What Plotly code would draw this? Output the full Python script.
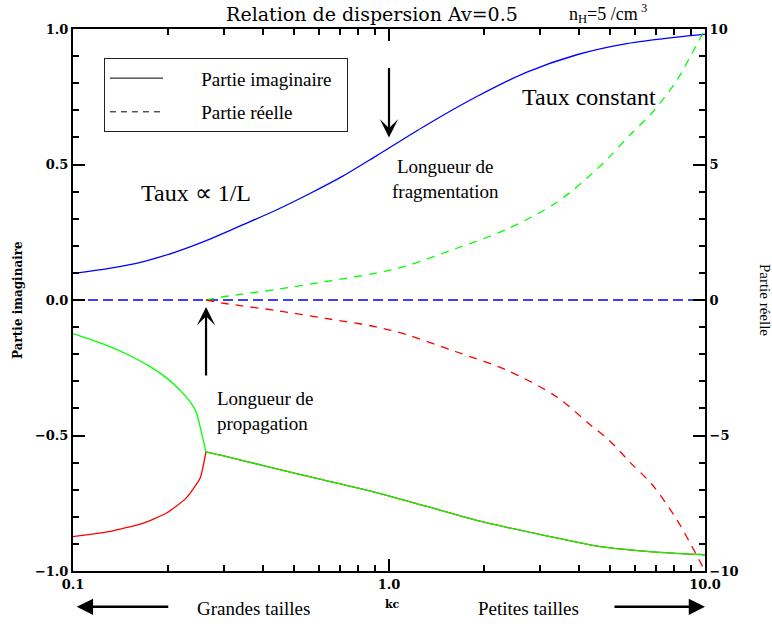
import plotly.graph_objects as go

# ---------------- data ----------------
# Imaginary part (left axis)
k_blue = [0.1, 0.13, 0.166, 0.212, 0.27, 0.344, 0.44, 0.56, 0.714, 0.912,
          1.31, 1.89, 2.72, 3.93, 5.65, 8.14, 10.0]
im_blue = [0.098, 0.117, 0.141, 0.178, 0.224, 0.277, 0.332, 0.392, 0.457, 0.532,
           0.645, 0.75, 0.84, 0.905, 0.946, 0.97, 0.98]

# green: upper branch until the branch point, then common branch
k_green = [0.1, 0.125, 0.15, 0.175, 0.2, 0.22, 0.235, 0.245, 0.251, 0.2635,
           0.3, 0.4, 0.6, 0.912, 1.3, 2.0, 3.0, 4.67, 7.0, 10.0]
im_green = [-0.124, -0.163, -0.203, -0.245, -0.292, -0.337, -0.377, -0.411, -0.455, -0.56,
            -0.575, -0.611, -0.66, -0.711, -0.76, -0.82, -0.865, -0.91, -0.93, -0.94]

# red: lower branch until the branch point, then common branch
k_red = [0.1, 0.13, 0.166, 0.197, 0.2277, 0.2523, 0.2635,
         0.3, 0.4, 0.6, 0.912, 1.3, 2.0, 3.0, 4.67, 7.0, 10.0]
im_red = [-0.873, -0.855, -0.824, -0.787, -0.732, -0.658, -0.56,
          -0.575, -0.611, -0.66, -0.711, -0.76, -0.82, -0.865, -0.91, -0.93, -0.94]

k_branch = 0.2635  # Longueur de propagation

# Real part (right axis)
k_re_blue = [0.1, 10.0]
re_blue = [0.0, 0.0]

k_re_green = [0.2635, 0.3, 0.44, 0.63, 0.91, 1.13, 1.63, 2.35, 3.39, 4.33, 5.0, 5.8, 6.79, 8.14, 9.0, 10.0]
re_green = [0.0, 0.12, 0.39, 0.68, 0.99, 1.25, 1.9, 2.6, 3.6, 4.6, 5.3, 6.1, 6.9, 8.1, 9.0, 10.0]

k_re_red = [0.2635, 0.3, 0.44, 0.63, 0.91, 1.13, 1.63, 2.35, 3.39, 4.33, 5.0, 5.8, 6.79, 8.14, 9.0, 10.0]
re_red = [0.0, -0.12, -0.39, -0.68, -0.99, -1.27, -1.91, -2.58, -3.57, -4.6, -5.2, -6.0, -6.8, -8.1, -9.0, -10.0]

# Ticks
x_major = [0.1, 1.0, 10.0]
x_major_text = ["0.1", "1.0", "10.0"]
x_minor = [0.2, 0.3, 0.4, 0.5, 0.6, 0.7, 0.8, 0.9, 2, 3, 4, 5, 6, 7, 8, 9]
yl_major = [-1.0, -0.5, 0.0, 0.5, 1.0]
yl_text = ["\u22121.0", "\u22120.5", "0.0", "0.5", "1.0"]
yr_major = [-10, -5, 0, 5, 10]
yr_text = ["\u221210", "\u22125", "0", "5", "10"]

BLUE = "rgb(0,0,255)"
GREEN = "rgb(0,255,0)"
RED = "rgb(255,0,0)"
LW = 1.3

fig = go.Figure()


def add_branch(k, v, color):
    i = k.index(k_branch)
    fig.add_trace(go.Scatter(x=k[:i + 1], y=v[:i + 1], mode="lines",
                             line=dict(color=color, width=LW, shape="spline", smoothing=0.5),
                             showlegend=False, yaxis="y"))
    fig.add_trace(go.Scatter(x=k[i:], y=v[i:], mode="lines",
                             line=dict(color=color, width=LW, shape="spline", smoothing=0.8),
                             showlegend=False, yaxis="y"))


# imaginary parts
fig.add_trace(go.Scatter(x=k_blue, y=im_blue, mode="lines",
                         line=dict(color=BLUE, width=LW, shape="spline", smoothing=0.8),
                         showlegend=False, yaxis="y"))
add_branch(k_red, im_red, RED)
add_branch(k_green, im_green, GREEN)

# real parts
fig.add_trace(go.Scatter(x=k_re_blue, y=re_blue, mode="lines",
                         line=dict(color=BLUE, width=LW, dash="10px,5px"),
                         showlegend=False, yaxis="y2"))
fig.add_trace(go.Scatter(x=k_re_green, y=re_green, mode="lines",
                         line=dict(color=GREEN, width=LW, dash="8px,7px", shape="spline", smoothing=0.9),
                         showlegend=False, yaxis="y2"))
fig.add_trace(go.Scatter(x=k_re_red, y=re_red, mode="lines",
                         line=dict(color=RED, width=LW, dash="8px,7px", shape="spline", smoothing=0.9),
                         showlegend=False, yaxis="y2"))

# legend entries
pad = "\u00a0" * 7
fig.add_trace(go.Scatter(x=[None], y=[None], mode="lines", line=dict(color="black", width=1),
                         name=pad + "Partie imaginaire" + "\u00a0" * 2, legendgroup="a"))
fig.add_trace(go.Scatter(x=[None], y=[None], mode="lines", line=dict(color="black", width=1, dash="6px,5px"),
                         name=pad + "Partie réelle", legendgroup="b"))

tick_font = dict(family="DejaVu Serif", size=13, color="black", weight="bold")

fig.update_layout(
    width=772, height=626,
    margin=dict(l=73, r=67, t=29, b=55),
    paper_bgcolor="white", plot_bgcolor="white",
    title=dict(text="Relation de dispersion Av=0.5", xref="paper", x=0.473, xanchor="center",
               yref="container", y=1 - 14 / 626, yanchor="middle",
               font=dict(family="DejaVu Serif", size=19, color="black")),
    xaxis=dict(type="log", range=[-1, 1], showline=True, linewidth=2, linecolor="black",
               mirror="ticks", ticks="inside", ticklen=12, tickwidth=1.5, tickcolor="black",
               tickmode="array", tickvals=x_major, ticktext=x_major_text, tickfont=tick_font,
               minor=dict(ticks="inside", ticklen=6, tickwidth=1.5, tickcolor="black",
                          tickmode="array", tickvals=x_minor),
               showgrid=False, zeroline=False),
    yaxis=dict(range=[-1, 1], showline=True, linewidth=2, linecolor="black",
               ticks="inside", ticklen=12, tickwidth=1.5, tickcolor="black",
               tickmode="array", tickvals=yl_major, ticktext=yl_text, tickfont=tick_font,
               minor=dict(ticks="inside", ticklen=6, tickwidth=1.5, tickcolor="black", dtick=0.1, tick0=0),
               showgrid=False, zeroline=False),
    yaxis2=dict(range=[-10, 10], overlaying="y", side="right", anchor="x",
                showline=True, linewidth=2, linecolor="black",
                ticks="inside", ticklen=12, tickwidth=1.5, tickcolor="black",
                tickmode="array", tickvals=yr_major, ticktext=yr_text, tickfont=tick_font,
                minor=dict(ticks="inside", ticklen=6, tickwidth=1.5, tickcolor="black", dtick=1, tick0=0),
                showgrid=False, zeroline=False),
    legend=dict(x=0.049, y=0.946, xanchor="left", yanchor="top", bgcolor="white",
                bordercolor="#222", borderwidth=1, traceorder="grouped", tracegroupgap=6,
                itemwidth=53, font=dict(family="Liberation Serif", size=19, color="black")),
)

serif = "Liberation Serif"
C = dict(xanchor="center", yanchor="middle", showarrow=False)
ann = []
# arrows on the plot
ann.append(dict(x=0.0, y=0.60, xref="x", yref="y", ax=0, ay=-71, text="", showarrow=True,
                arrowhead=3, arrowsize=1.4, arrowwidth=2.2, arrowcolor="black"))
ann.append(dict(x=-0.579, y=-0.026, xref="x", yref="y", ax=0, ay=70, text="", showarrow=True,
                arrowhead=3, arrowsize=1.4, arrowwidth=2.2, arrowcolor="black"))
# texts
ann.append(dict(x=0.816, y=0.8745, xref="paper", yref="paper", text="Taux constant",
                font=dict(family=serif, size=24, color="black"), **C))
ann.append(dict(x=0.195, y=0.697, xref="paper", yref="paper", text="Taux \u221d 1/L",
                font=dict(family=serif, size=24, color="black"), **C))
ann.append(dict(x=0.589, y=0.724, xref="paper", yref="paper", text="Longueur de<br>fragmentation",
                font=dict(family=serif, size=19, color="black"), **C))
ann.append(dict(x=0.2247, y=0.295, xref="paper", yref="paper", xanchor="left", yanchor="middle", align="left",
                text="Longueur de<br>propagation", showarrow=False, font=dict(family=serif, size=19, color="black")))
ann.append(dict(x=0.8465, y=1.0295, xref="paper", yref="paper", text="n<sub>H</sub>=5 /cm<sup> 3</sup>",
                font=dict(family=serif, size=18, color="black"), **C))
# axis titles
ann.append(dict(x=0.505, y=-0.061, xref="paper", yref="paper", text="<b>kc</b>",
                font=dict(family="DejaVu Serif", size=11, color="black"), **C))
ann.append(dict(x=-0.087, y=0.5, xref="paper", yref="paper", text="<b>Partie imaginaire</b>", textangle=-90,
                font=dict(family="DejaVu Serif", size=12, color="black"), **C))
ann.append(dict(x=1.095, y=0.5, xref="paper", yref="paper", text="Partie réelle", textangle=90,
                font=dict(family=serif, size=15, color="black"), **C))
# bottom size hints
ann.append(dict(x=0.285, y=-0.070, xref="paper", yref="paper", text="Grandes tailles",
                font=dict(family=serif, size=19, color="black"), **C))
ann.append(dict(x=0.7215, y=-0.070, xref="paper", yref="paper", text="Petites tailles",
                font=dict(family=serif, size=19, color="black"), **C))
ann.append(dict(x=0.006, y=-0.066, xref="paper", yref="paper", ax=93, ay=0, text="", showarrow=True,
                arrowhead=2, arrowsize=1.3, arrowwidth=2.5, arrowcolor="black"))
ann.append(dict(x=1.0, y=-0.066, xref="paper", yref="paper", ax=-92, ay=0, text="", showarrow=True,
                arrowhead=2, arrowsize=1.3, arrowwidth=2.5, arrowcolor="black"))
fig.update_layout(annotations=ann)

fig.write_html("out.html", config={"displayModeBar": False},
               post_script="document.body.style.margin='0px';document.body.style.overflow='hidden';")
